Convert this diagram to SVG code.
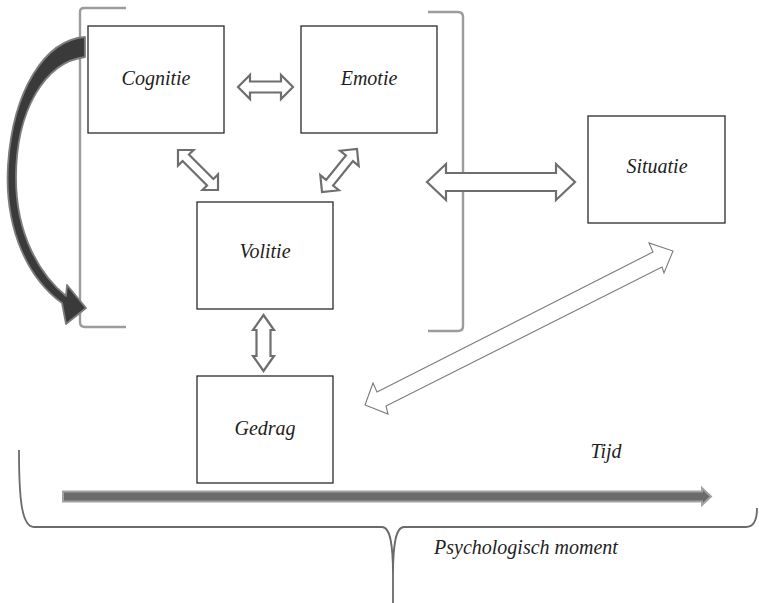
<svg xmlns="http://www.w3.org/2000/svg" width="759" height="603" viewBox="0 0 759 603">
<style>
.box{fill:#fff;stroke:#2a2a2a;stroke-width:1.3}
.lbl{font-family:"Liberation Serif","DejaVu Serif",serif;font-style:italic;font-size:20px;fill:#1e1e1e;text-anchor:middle}
.brk{fill:none;stroke:#9c9c9c;stroke-width:2.4}
.dbl{fill:#fff;stroke:#6e6e6e;stroke-width:2.2;stroke-linejoin:miter}
.thin{fill:#fff;stroke:#7a7a7a;stroke-width:1.1}
.brace{fill:none;stroke:#6a6a6a;stroke-width:1.8}
</style>
<rect width="759" height="603" fill="#fff"/>
<g id="brackets">
<path class="brk" d="M126,8 L84,8 Q80,8 80,12 L80,322 Q80,327 85,327 L126,327"/>
<path class="brk" d="M428,12 L458,12 Q463,12 463,17 L463,326 Q463,331 458,331 L428,331"/>
</g>
<g id="connectors">
<path d="M85,37 C45,40 13,90 8,165 C4,232 30,280 62,303 L66,324 L86,308 L67,285 L66,296 C40,275 16,235 16,178 C16,110 45,62 85,57 Z" fill="#3a3a3a" stroke="#7d7d7d" stroke-width="1.8" stroke-linejoin="round"/>
<polygon class="dbl" points="238,87 250,75 250,81.5 281,81.5 281,75 293,87 281,99 281,92.5 250,92.5 250,99"/>
<polygon class="dbl" transform="translate(198,170) rotate(45)" points="-28.3,0 -17.3,-11 -17.3,-4.5 17.3,-4.5 17.3,-11 28.3,0 17.3,11 17.3,4.5 -17.3,4.5 -17.3,11"/>
<polygon class="dbl" transform="translate(339.5,170.5) rotate(-50.9)" points="-27.7,0 -15.7,-12 -15.7,-4.5 15.7,-4.5 15.7,-12 27.7,0 15.7,12 15.7,4.5 -15.7,4.5 -15.7,12"/>
<polygon class="dbl" points="263.5,315 274,330 270.5,330 270.5,356 274,356 263.5,371 253,356 256.5,356 256.5,330 253,330"/>
<polygon class="dbl" points="427,182 446,164 446,173 556,173 556,164 575,182 556,200 556,191 446,191 446,200"/>
<polygon class="thin" points="365,405 373,383 377,392 653,252 649,243 673,251 664,273 662,267 386,406 388,414"/>
<path d="M63,491.5 L702,491.5 L702,488 L711,496.5 L702,505 L702,501.5 L63,501.5 Z" fill="#6b6b6b" stroke="#a2a2a2" stroke-width="2"/>
<path class="brace" d="M19,450 C19,495 21,527 34,527 L382,527 C391,527 393,548 393,575 L393,603 M404,527 C395,527 393,548 393,575 M404,527 L746,527 C754,527 757,520 757,508"/>
</g>
<g id="cognitie"><rect class="box" x="88" y="26" width="136" height="107"/><text class="lbl" x="156" y="85">Cognitie</text></g>
<g id="emotie"><rect class="box" x="301" y="26" width="136" height="107"/><text class="lbl" x="369" y="85">Emotie</text></g>
<g id="volitie"><rect class="box" x="197" y="202" width="136" height="107"/><text class="lbl" x="265" y="258">Volitie</text></g>
<g id="situatie"><rect class="box" x="588" y="116" width="137" height="107"/><text class="lbl" x="657" y="173">Situatie</text></g>
<g id="gedrag"><rect class="box" x="197" y="376" width="136" height="107"/><text class="lbl" x="265" y="435">Gedrag</text></g>
<g id="labels">
<text class="lbl" x="606" y="458">Tijd</text>
<text class="lbl" x="526" y="554">Psychologisch moment</text>
</g>
</svg>
